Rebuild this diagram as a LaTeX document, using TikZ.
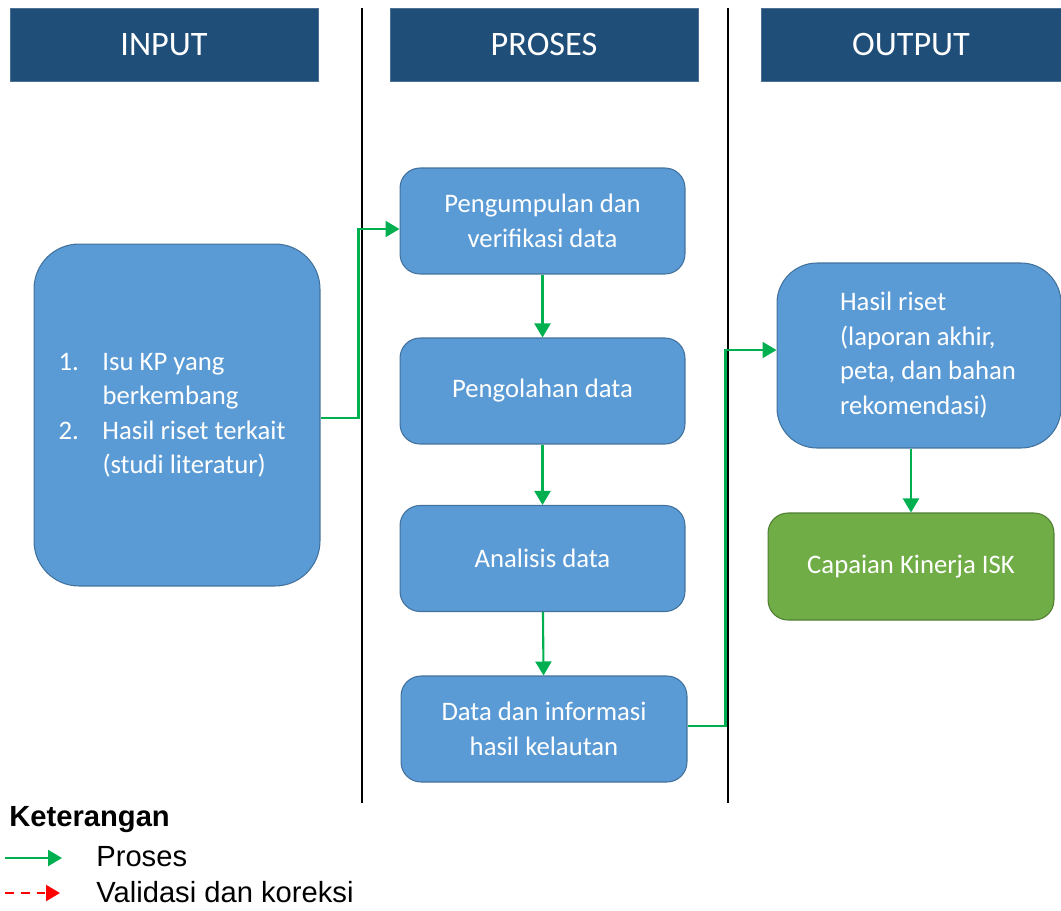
\documentclass[tikz,border=0pt]{standalone}
\usepackage{fontspec}
\setmainfont{Carlito}
\newfontfamily\arialfont{Liberation Sans}
\usepackage{tikz}
\usetikzlibrary{arrows.meta}

\definecolor{headblue}{HTML}{1F4E79}
\definecolor{boxblue}{HTML}{5B9BD5}
\definecolor{boxline}{HTML}{41719C}
\definecolor{boxgreen}{HTML}{70AD47}
\definecolor{greenline}{HTML}{507E32}
\definecolor{arrowgreen}{HTML}{00B050}

\begin{document}
\begin{tikzpicture}[x=0.02cm,y=-0.02cm,
  head/.style={fill=headblue,draw=headblue!80!white,line width=0.4pt,text=white,
    minimum height=1.46cm,inner sep=0pt,font=\fontsize{19.5}{23}\selectfont},
  blok/.style={fill=boxblue,draw=boxline,line width=0.6pt,text=white,rounded corners=0.4cm,
    minimum width=5.7cm,minimum height=2.12cm,align=center,inner sep=0pt,
    font=\fontsize{15.2}{19.6}\selectfont},
  flow/.style={draw=arrowgreen,line width=1.2pt,-{Triangle[width=0.32cm,length=0.28cm]}},
  valid/.style={draw=red,line width=1.2pt,dashed,dash pattern=on 5pt off 4pt,
    -{Triangle[width=0.32cm,length=0.28cm]}},
  legtext/.style={anchor=west,inner sep=0pt,font=\arialfont\fontsize{16.6}{19}\selectfont}]
\useasboundingbox (0,0) rectangle (1061,910);

% Headers
\node[head,minimum width=6.16cm] (hin) at (164,44.5) {INPUT};
\node[head,minimum width=6.16cm] (hpro) at (544,44.5) {PROSES};
\node[head,minimum width=6.0cm] (hout) at (911,44.5) {OUTPUT};

% Column separators
\draw[line width=0.8pt] (362,8) -- (362,803);
\draw[line width=0.8pt] (728,8) -- (728,803);

% Input
\node[blok,minimum width=5.72cm,minimum height=6.84cm,rounded corners=0.9cm] (isu) at (177,415)
  {\begin{tabular}{@{}p{0.88cm}@{}l@{\hspace{0.2cm}}}
   1. & Isu KP yang\\
      & berkembang\\
   2. & Hasil riset terkait\\
      & (studi literatur)
   \end{tabular}};

% Proses
\node[blok] (kumpul) at (542.5,221) {Pengumpulan dan\\verifikasi data};
\node[blok] (olah) at (542.5,391) {Pengolahan data};
\node[blok] (analisis) at (542.5,558.5) {Analisis data};
\node[blok,minimum width=5.72cm] (datainfo) at (544,729) {Data dan informasi\\hasil kelautan};

% Output
\node[blok,minimum width=5.68cm,minimum height=3.7cm,rounded corners=0.8cm] (hasil) at (919,355.5)
  {\begin{tabular}{@{\hspace{0.36cm}}l@{}}
   Hasil riset\\
   (laporan akhir,\\
   peta, dan bahan\\
   rekomendasi)
   \end{tabular}};
\node[blok,fill=boxgreen,draw=greenline,minimum width=5.72cm,minimum height=2.14cm] (capaian) at (911,566.5)
  {Capaian Kinerja ISK};

% Arrows
\draw[flow] ([yshift=-0.06cm]isu.east) -- ++(38,0) |- ([yshift=-0.16cm]kumpul.west);
\draw[flow] (kumpul) -- (olah);
\draw[flow] (olah) -- (analisis);
\draw[flow] (analisis) -- (datainfo);
\draw[flow] ([yshift=0.06cm]datainfo.east) -- ++(38,0) |- ([yshift=0.11cm]hasil.west);
\draw[flow] (capaian.north |- hasil.south) -- (capaian.north);

% Legend
\node[legtext,font=\arialfont\bfseries\fontsize{16.6}{19}\selectfont] (ket) at (9,820) {Keterangan};
\coordinate (p1) at (5,858);
\coordinate (p2) at (62,858);
\coordinate (v1) at (5,893);
\coordinate (v2) at (60,893);
\draw[flow] (p1) -- (p2);
\draw[valid] (v1) -- (v2);
\node[legtext] (lproses) at (96,857) {Proses};
\node[legtext] (lvalid) at (96,892) {Validasi dan koreksi};
\end{tikzpicture}
\end{document}
